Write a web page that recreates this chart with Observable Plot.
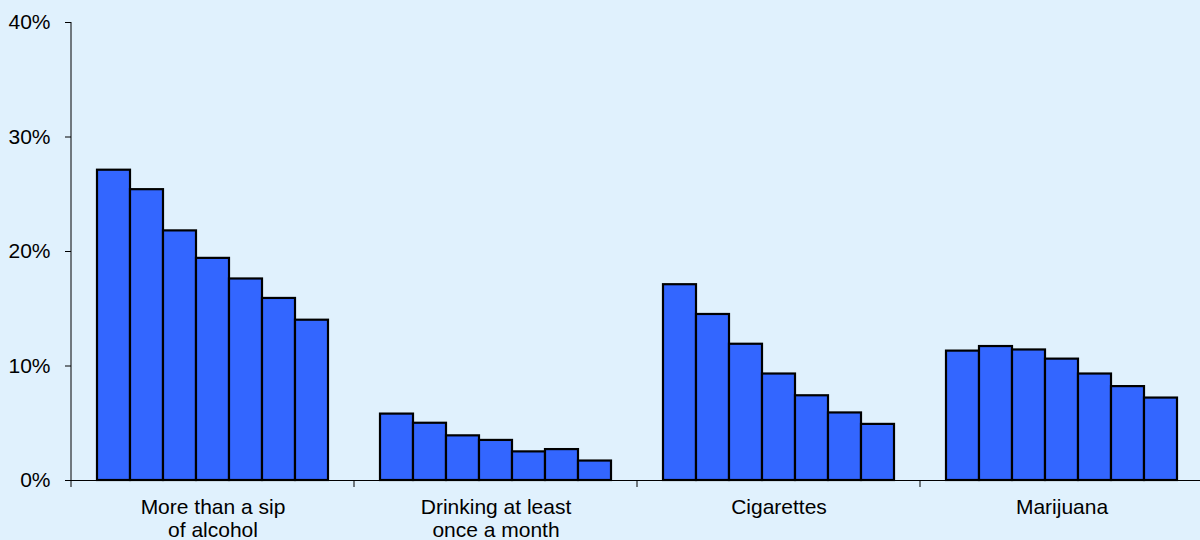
<!DOCTYPE html>
<html>
<head>
<meta charset="utf-8">
<script src="https://cdn.jsdelivr.net/npm/d3@7"></script>
<script src="https://cdn.jsdelivr.net/npm/@observablehq/plot@0.6"></script>
<style>
  html, body { margin: 0; padding: 0; background: #e0f1fd; overflow: hidden; }
  #chart svg { display: block; background: #e0f1fd; }
</style>
</head>
<body>
<div id="chart"></div>
<script>
// Categories (groups) and their axis labels
const categories = ["More than a sip of alcohol", "Drinking at least once a month", "Cigarettes", "Marijuana"];
const categoryLabels = ["More than a sip\nof alcohol", "Drinking at least\nonce a month", "Cigarettes", "Marijuana"];
// Seven bars per group (successive survey periods)
const periods = [1, 2, 3, 4, 5, 6, 7];
// Series values (percent)
const sipAlcohol = [27.1, 25.4, 21.8, 19.4, 17.6, 15.9, 14.0];
const monthlyDrinking = [5.8, 5.0, 3.9, 3.5, 2.5, 2.7, 1.7];
const cigarettes = [17.1, 14.5, 11.9, 9.3, 7.4, 5.9, 4.9];
const marijuana = [11.3, 11.7, 11.4, 10.6, 9.3, 8.2, 7.2];
// Y tick values
const yTicks = [0, 10, 20, 30, 40];

const seriesByCategory = [sipAlcohol, monthlyDrinking, cigarettes, marijuana];
const data = categories.flatMap((c, gi) =>
  periods.map((p, i) => ({category: c, period: p, value: seriesByCategory[gi][i]}))
);
const labelOf = new Map(categories.map((c, i) => [c, categoryLabels[i]]));

const font = "Liberation Sans, Arial, sans-serif";

const chart = Plot.plot({
  width: 1200,
  height: 540,
  marginLeft: 71,
  marginRight: -3,
  marginTop: 22,
  marginBottom: 60,
  style: {background: "#e0f1fd", fontFamily: font, color: "#000"},
  fx: {domain: categories, padding: 0, axis: null},
  x: {domain: periods, paddingInner: 0, paddingOuter: 0.73, axis: null},
  y: {domain: [0, 40], axis: null},
  marks: [
    Plot.barY(data, {fx: "category", x: "period", y: "value", fill: "#3366ff", stroke: "#000", strokeWidth: 2.2}),
    Plot.ruleY([0], {stroke: "#000", strokeWidth: 1}),
    Plot.axisY({ticks: yTicks, tickFormat: d => d + "%", tickSize: 6, tickPadding: 15, fontSize: 21, stroke: "#000", strokeOpacity: 1, label: null}),
    Plot.axisFx({anchor: "bottom", tickSize: 0, tickPadding: 17, fontSize: 21, lineHeight: 1.1, tickFormat: d => labelOf.get(d), label: null})
  ]
});

document.getElementById("chart").appendChild(chart);

// Axis line and group-boundary ticks, placed with the plot's own scales
const fx = chart.scale("fx");
const y = chart.scale("y");
const svg = d3.select(chart);
const g = svg.append("g").attr("stroke", "#000").attr("stroke-width", 1);
const x0 = fx.apply(categories[0]);
g.append("line").attr("x1", x0).attr("x2", x0).attr("y1", y.apply(40)).attr("y2", y.apply(0) + 7);
categories.slice(1).forEach(c => {
  const xb = fx.apply(c);
  g.append("line").attr("x1", xb).attr("x2", xb).attr("y1", y.apply(0)).attr("y2", y.apply(0) + 7);
});
</script>
</body>
</html>
